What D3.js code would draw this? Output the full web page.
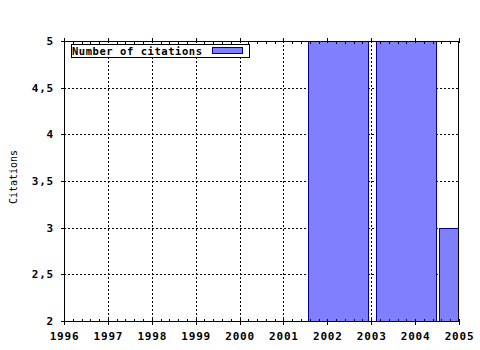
<!DOCTYPE html>
<html>
<head>
<meta charset="utf-8">
<script src="https://cdn.jsdelivr.net/npm/d3@7"></script>
<style>
  body { margin: 0; background: #fff; }
  svg { display: block; }
  .lbl { font-family: "DejaVu Sans Mono", monospace; font-weight: bold; font-size: 11px; letter-spacing: 0.8px; fill: #000; }
  .title { font-family: "DejaVu Sans Mono", monospace; font-size: 10px; fill: #000; }
</style>
</head>
<body>
<svg id="chart" width="480" height="350"></svg>
<script>
// bars: center year, value
const barYears = [2002.245, 2003.79, 2005.215];
const barValues = [5, 5, 3];
const barWidth = 1.35; // in years
const xTicks = [1996, 1997, 1998, 1999, 2000, 2001, 2002, 2003, 2004, 2005];
const yTicks = [2, 2.5, 3, 3.5, 4, 4.5, 5];
const yTickLabels = ["2", "2,5", "3", "3,5", "4", "4,5", "5"];
const seriesName = "Number of citations";
const yTitle = "Citations";

const pL = 64, pR = 459, pT = 41, pB = 321;
const svg = d3.select("#chart");

const x = d3.scaleLinear().domain([1996, 2005]).range([pL, pR]);
const y = d3.scaleLinear().domain([2, 5]).range([pB, pT]);

svg.append("rect").attr("width", 480).attr("height", 350).attr("fill", "#fff");

svg.append("defs").append("clipPath").attr("id", "plotClip")
  .append("rect").attr("x", pL).attr("y", pT).attr("width", pR - pL).attr("height", pB - pT);

// grid
const grid = svg.append("g").attr("stroke", "#000").attr("stroke-width", 1).attr("stroke-dasharray", "2,2");
grid.selectAll(".vg").data(xTicks.slice(1, -1)).enter().append("line")
  .attr("x1", d => Math.round(x(d)) + 0.5).attr("x2", d => Math.round(x(d)) + 0.5)
  .attr("y1", pT).attr("y2", pB);
grid.selectAll(".hg").data(yTicks.slice(1, -1)).enter().append("line")
  .attr("x1", pL).attr("x2", pR)
  .attr("y1", d => Math.round(y(d)) + 0.5).attr("y2", d => Math.round(y(d)) + 0.5);

// bars
svg.append("g").attr("clip-path", "url(#plotClip)")
  .selectAll("rect").data(barYears.map((yr, i) => ({ yr, v: barValues[i] }))).enter().append("rect")
  .attr("x", d => Math.round(x(d.yr - barWidth / 2)) + 0.5)
  .attr("y", d => Math.round(y(d.v)) + 0.5)
  .attr("width", d => Math.round(x(d.yr + barWidth / 2)) - Math.round(x(d.yr - barWidth / 2)))
  .attr("height", d => pB - Math.round(y(d.v)))
  .attr("fill", "#8080ff").attr("stroke", "#000099").attr("stroke-width", 1);

// frame
const frame = svg.append("g").attr("stroke", "#000").attr("stroke-width", 1).attr("fill", "none");
frame.append("rect").attr("x", pL + 0.5).attr("y", pT + 0.5).attr("width", pR - pL - 1).attr("height", pB - pT);

// x ticks
const minor = d3.range(1996, 2005.001, 0.2).filter(v => Math.abs(v - Math.round(v)) > 0.01);
frame.selectAll(".xmaj").data(xTicks).enter().append("line")
  .attr("x1", d => Math.round(x(d)) + 0.5).attr("x2", d => Math.round(x(d)) + 0.5)
  .attr("y1", pB - 2).attr("y2", pB + 4);
frame.selectAll(".xmajt").data(xTicks).enter().append("line")
  .attr("x1", d => Math.round(x(d)) + 0.5).attr("x2", d => Math.round(x(d)) + 0.5)
  .attr("y1", pT - 3).attr("y2", pT + 2);
frame.selectAll(".xmin").data(minor).enter().append("line")
  .attr("x1", d => Math.round(x(d)) + 0.5).attr("x2", d => Math.round(x(d)) + 0.5)
  .attr("y1", pB - 2).attr("y2", pB);
frame.selectAll(".xmint").data(minor).enter().append("line")
  .attr("x1", d => Math.round(x(d)) + 0.5).attr("x2", d => Math.round(x(d)) + 0.5)
  .attr("y1", pT + 1).attr("y2", pT + 3);

// y ticks
frame.selectAll(".ymaj").data(yTicks).enter().append("line")
  .attr("x1", pL - 3).attr("x2", pL + 2)
  .attr("y1", d => Math.round(y(d)) + 0.5).attr("y2", d => Math.round(y(d)) + 0.5);

// labels
svg.selectAll(".xl").data(xTicks).enter().append("text").attr("class", "lbl")
  .attr("x", d => x(d) + 0.5).attr("y", 340).attr("text-anchor", "middle").text(d => d);
svg.selectAll(".yl").data(yTicks).enter().append("text").attr("class", "lbl")
  .attr("x", 54).attr("y", d => y(d) + 4).attr("text-anchor", "end")
  .text((d, i) => yTickLabels[i]);

svg.append("text").attr("class", "title")
  .attr("transform", "translate(17," + 177 + ") rotate(-90)")
  .attr("text-anchor", "middle").text(yTitle);

// legend
const lg = svg.append("g");
lg.append("rect").attr("x", 71.5).attr("y", 44.5).attr("width", 178).attr("height", 13)
  .attr("fill", "#fff").attr("stroke", "#000");
lg.append("text").attr("class", "lbl").attr("x", 72).attr("y", 55)
  .style("font-size", "10.5px").style("letter-spacing", "0.55px").text(seriesName);
lg.append("rect").attr("x", 212.5).attr("y", 47.5).attr("width", 30).attr("height", 6)
  .attr("fill", "#8080ff").attr("stroke", "#000099");
</script>
</body>
</html>
